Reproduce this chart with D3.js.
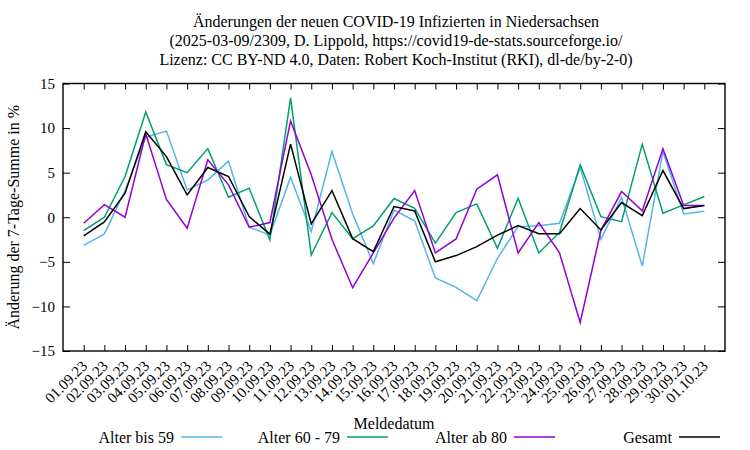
<!DOCTYPE html>
<html><head><meta charset="utf-8">
<script src="https://cdn.jsdelivr.net/npm/d3@7"></script>
<style>
body{margin:0;background:#fff;}
text{font-family:"Liberation Serif","Times New Roman",serif;fill:#000;}
</style></head>
<body><svg id="c" width="750" height="450"></svg>
<script>
const dates = ["01.09.23","02.09.23","03.09.23","04.09.23","05.09.23","06.09.23","07.09.23","08.09.23","09.09.23","10.09.23","11.09.23","12.09.23","13.09.23","14.09.23","15.09.23","16.09.23","17.09.23","18.09.23","19.09.23","20.09.23","21.09.23","22.09.23","23.09.23","24.09.23","25.09.23","26.09.23","27.09.23","28.09.23","29.09.23","30.09.23","01.10.23"];
const bis59 = [-3.15,-1.87,3.0,9.0,9.66,3.07,4.2,6.3,-1.12,-2.0,4.5,-1.6,7.38,0.4,-5.2,0.8,-0.4,-6.8,-7.87,-9.36,-4.6,-1.05,-0.94,-0.67,5.6,-2.47,2.25,-5.47,7.38,0.37,0.67];
const a60_79 = [-1.5,0,4.57,11.8,5.9,5.0,7.7,2.25,3.26,-2.55,13.4,-4.23,0.52,-2.4,-0.97,2.1,1.0,-2.9,0.52,1.5,-3.48,2.13,-4.0,-1.7,5.88,0.07,-0.49,8.2,0.45,1.39,2.32];
const ab80 = [-0.67,1.42,0,9.36,2.0,-1.24,6.44,3.63,-1.12,-0.6,10.8,4.76,-2.47,-7.9,-4.0,-0.1,3.0,-4.0,-2.43,3.15,4.76,-4.0,-0.6,-4.0,-11.8,-1.5,2.88,0.71,7.68,1.31,1.31];
const gesamt = [-2.1,-0.52,2.7,9.6,6.8,2.5,5.58,4.57,0.07,-1.9,8.2,-0.75,3.0,-2.4,-3.86,1.2,0.7,-5.0,-4.3,-3.3,-2.0,-0.94,-1.84,-1.84,0.97,-1.42,1.65,0.19,5.24,0.97,1.31];
const seriesNames = ["Alter bis 59","Alter 60 - 79","Alter ab 80","Gesamt"];
const seriesColors = ["#56b4e9","#009e73","#9400d3","#000000"];
const yTicks = [-15,-10,-5,0,5,10,15];
const titleLines = ["Änderungen der neuen COVID-19 Infizierten in Niedersachsen","(2025-03-09/2309, D. Lippold, https://covid19-de-stats.sourceforge.io/","Lizenz: CC BY-ND 4.0, Daten: Robert Koch-Institut (RKI), dl-de/by-2-0)"];

const svg = d3.select("#c");
const L=63, R=725, T=83.5, B=351;
const x = d3.scaleLinear().domain([-1, dates.length]).range([L, R]);
const y = d3.scaleLinear().domain([-15, 15]).range([B, T]);
const idx = d3.range(dates.length);

// title
svg.append("g").selectAll("text").data(titleLines).join("text")
  .attr("x", (L+R)/2+2).attr("y",(d,i)=>27+i*19).attr("text-anchor","middle")
  .style("font-size","16px").text(d=>d);

// axes
const yl = svg.append("g").attr("transform",`translate(${L},0)`)
  .call(d3.axisLeft(y).tickValues(yTicks).tickSize(-7).tickPadding(8).tickFormat(d3.format("d")));
const yr = svg.append("g").attr("transform",`translate(${R},0)`)
  .call(d3.axisRight(y).tickValues(yTicks).tickSize(-7).tickFormat(""));
const xb = svg.append("g").attr("transform",`translate(0,${B})`)
  .call(d3.axisBottom(x).tickValues(idx).tickSize(-6).tickFormat(i=>dates[i]));
const xt = svg.append("g").attr("transform",`translate(0,${T})`)
  .call(d3.axisTop(x).tickValues(idx).tickSize(-6).tickFormat(""));
[yl,yr,xb,xt].forEach(g=>{
  g.select(".domain").remove();
  g.selectAll(".tick line").attr("stroke","#000").attr("stroke-width",1);
  g.selectAll("text").attr("font-family",null).style("font-size","15px").attr("fill","#000");
});
xb.selectAll(".tick text")
  .attr("text-anchor","end").attr("dy",null).attr("y",null)
  .attr("transform","translate(4,16) rotate(-45)");

// lines
const series = [bis59, a60_79, ab80, gesamt];
const line = d3.line().x((d,i)=>x(i)).y(d=>y(d));
series.forEach((s,k)=>{
  svg.append("path").datum(s).attr("d",line).attr("fill","none")
    .attr("stroke",seriesColors[k]).attr("stroke-width",1.5).attr("stroke-linejoin","miter");
});

// frame
svg.append("rect").attr("x",L).attr("y",T).attr("width",R-L).attr("height",B-T)
  .attr("fill","none").attr("stroke","#000").attr("stroke-width",1.4);

// axis labels
svg.append("text").attr("transform",`translate(19,${(T+B)/2}) rotate(-90)`)
  .attr("text-anchor","middle").style("font-size","16px").text("Änderung der 7-Tage-Summe in %");
svg.append("text").attr("x",(L+R)/2).attr("y",429).attr("text-anchor","middle")
  .style("font-size","16px").text("Meldedatum");

// legend
const legX = [174, 340, 507, 672];
const lg = svg.append("g").selectAll("g").data(seriesNames).join("g");
lg.append("text").attr("x",(d,i)=>legX[i]).attr("y",443).attr("text-anchor","end")
  .style("font-size","16px").text(d=>d);
lg.append("line").attr("x1",(d,i)=>legX[i]+7).attr("x2",(d,i)=>legX[i]+48)
  .attr("y1",437).attr("y2",437).attr("stroke",(d,i)=>seriesColors[i]).attr("stroke-width",1.5);
</script></body></html>
